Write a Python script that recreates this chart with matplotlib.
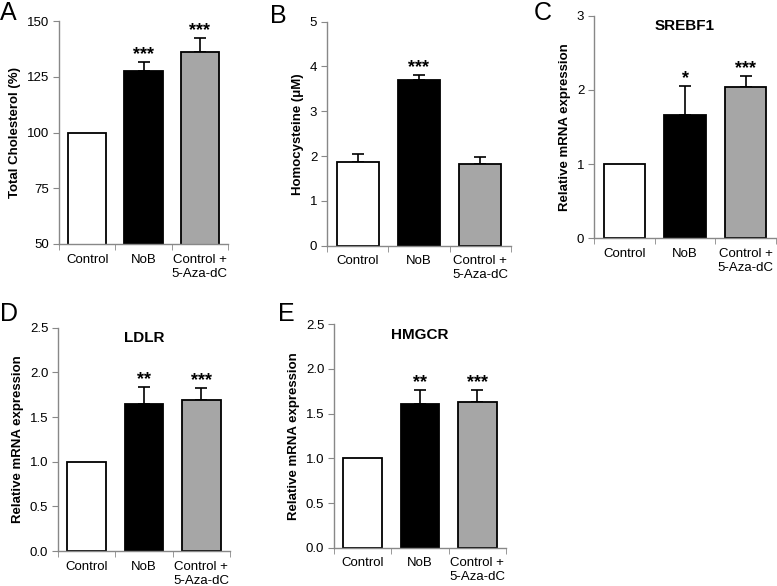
import numpy as np
import matplotlib
matplotlib.use("Agg")
from matplotlib import pyplot as plt

plt.rcParams['font.family'] = ['Liberation Sans', 'DejaVu Sans']

groups = ["Control", "NoB", "Control +\n5-Aza-dC"]
colors = ["white", "black", "#a6a6a6"]

chol = [100, 127.7, 136.2]
chol_err = [0, 4.1, 6.3]
chol_sig = ["", "***", "***"]

hcy = [1.87, 3.69, 1.82]
hcy_err = [0.17, 0.13, 0.15]
hcy_sig = ["", "***", ""]

srebf1 = [1.0, 1.66, 2.04]
srebf1_err = [0, 0.39, 0.15]
srebf1_sig = ["", "*", "***"]

ldlr = [1.0, 1.65, 1.69]
ldlr_err = [0, 0.19, 0.14]
ldlr_sig = ["", "**", "***"]

hmgcr = [1.0, 1.605, 1.63]
hmgcr_err = [0, 0.16, 0.14]
hmgcr_sig = ["", "**", "***"]

W, H = 777, 586
fig = plt.figure(figsize=(W / 100, H / 100), dpi=100)


def px_axes(left, right, top, bottom):
    return fig.add_axes([left / W, 1 - bottom / H, (right - left) / W, (bottom - top) / H])


def panel(ax, vals, errs, sig, ylim, yticks, ylabel, fmt, title=None):
    x = np.arange(len(vals))
    ax.bar(x, vals, width=0.68, color=colors, edgecolor="black", linewidth=1.3, zorder=2)
    for xi, v, e in zip(x, vals, errs):
        if e > 0:
            ax.errorbar(xi, v, yerr=[[0], [e]], fmt="none", ecolor="black",
                        elinewidth=1.2, capsize=4, capthick=1.2, zorder=1)
    span = ylim[1] - ylim[0]
    for xi, v, e, s in zip(x, vals, errs, sig):
        if s:
            ax.text(xi, v + e - span * 0.005, s, ha="center", va="bottom",
                    fontsize=13, fontweight="bold")
    ax.set_xlim(-0.5, 2.5)
    ax.set_ylim(*ylim)
    ax.set_yticks(yticks)
    ax.set_yticklabels([fmt.format(t) for t in yticks])
    ax.set_xticks(x)
    ax.set_xticklabels(groups)
    ax.set_xticks([-0.5, 0.5, 1.5, 2.5], minor=True)
    ax.tick_params(axis="x", which="major", length=0, pad=7, labelsize=9.5)
    ax.tick_params(axis="x", which="minor", length=4, color="#888888", direction="out")
    ax.tick_params(axis="y", length=4, color="#888888", labelsize=9.5, pad=3)
    for side in ["top", "right"]:
        ax.spines[side].set_visible(False)
    for side in ["left", "bottom"]:
        ax.spines[side].set_color("#888888")
        ax.spines[side].set_linewidth(1.0)
    ax.set_ylabel(ylabel, fontsize=9.5, fontweight="bold")
    if title:
        ax.text(0.5, 0.985, title, transform=ax.transAxes, ha="center", va="top",
                fontsize=11, fontweight="bold")


axA = px_axes(59, 228, 21, 244)
panel(axA, chol, chol_err, chol_sig, (50, 150), [50, 75, 100, 125, 150],
      "Total Cholesterol (%)", "{:.0f}")
axB = px_axes(327, 511, 21.7, 245.7)
panel(axB, hcy, hcy_err, hcy_sig, (0, 5), [0, 1, 2, 3, 4, 5],
      "Homocysteine (\u03bcM)", "{:.0f}")
axC = px_axes(594, 776, 15.7, 238.3)
panel(axC, srebf1, srebf1_err, srebf1_sig, (0, 3), [0, 1, 2, 3],
      "Relative mRNA expression", "{:.0f}", "SREBF1")
axD = px_axes(58, 230, 327.7, 551)
panel(axD, ldlr, ldlr_err, ldlr_sig, (0, 2.5), [0, 0.5, 1.0, 1.5, 2.0, 2.5],
      "Relative mRNA expression", "{:.1f}", "LDLR")
axE = px_axes(334, 506, 324.3, 547.7)
panel(axE, hmgcr, hmgcr_err, hmgcr_sig, (0, 2.5), [0, 0.5, 1.0, 1.5, 2.0, 2.5],
      "Relative mRNA expression", "{:.1f}", "HMGCR")

for letter, xp, yp in [("A", 0, 1), ("B", 270, 4), ("C", 534, 1), ("D", 0, 302), ("E", 278, 302)]:
    fig.text(xp / W, 1 - yp / H, letter, ha="left", va="top", fontsize=18)

fig.savefig("out.png", dpi=100)
